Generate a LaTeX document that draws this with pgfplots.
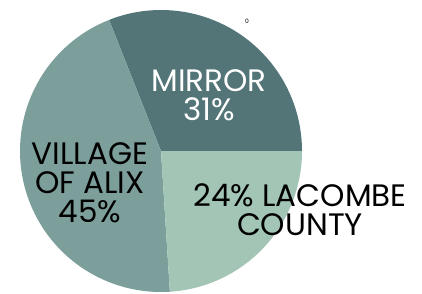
\documentclass[border=0pt]{standalone}
\usepackage{pgfplots}
\usepackage{pgfplotstable}
\pgfplotsset{compat=1.18}
\usepackage{fontspec}
\setmainfont{Poppins}
\definecolor{cMirror}{HTML}{537578}
\definecolor{cAlix}{HTML}{7D9F9B}
\definecolor{cLacombe}{HTML}{A2C5B6}
\pgfplotstableread{
name pct
Mirror 31
Alix 45
Lacombe 24
}\piedata
\pgfplotstablegetelem{0}{pct}\of\piedata \let\pA\pgfplotsretval
\pgfplotstablegetelem{1}{pct}\of\piedata \let\pB\pgfplotsretval
\pgfplotstablegetelem{2}{pct}\of\piedata \let\pC\pgfplotsretval
\pgfmathsetmacro{\aA}{3.6*\pA}
\pgfmathsetmacro{\aB}{\aA+3.6*\pB}
\pgfmathsetmacro{\aC}{\aB+3.6*\pC}
\begin{document}
\begin{tikzpicture}
\begin{axis}[
  scale only axis, width=422pt, height=293pt,
  xmin=0, xmax=422, ymin=0, ymax=293,
  hide axis, clip=false,
]
\path (axis cs:0,0) rectangle (axis cs:422,293);
\def\cx{161}\def\cy{142}\def\r{141}
\addplot[fill=cMirror, draw=none, domain=0:\aA, samples=120]
  ({\cx+\r*cos(x)},{\cy+\r*sin(x)}) -- (axis cs:\cx,\cy) -- cycle;
\addplot[fill=cAlix, draw=none, domain=\aA:\aB, samples=160]
  ({\cx+\r*cos(x)},{\cy+\r*sin(x)}) -- (axis cs:\cx,\cy) -- cycle;
\addplot[fill=cLacombe, draw=none, domain=\aB:\aC, samples=100]
  ({\cx+\r*cos(x)},{\cy+\r*sin(x)}) -- (axis cs:\cx,\cy) -- cycle;
\node[text=white, align=center, inner sep=0pt, font=\fontsize{31}{29}\selectfont] at (axis cs:209,198) {MIRROR\\31\%};
\node[text=black, align=center, inner sep=0pt, font=\fontsize{31}{29}\selectfont] at (axis cs:90,110) {VILLAGE\\OF ALIX\\45\%};
\node[text=black, align=center, inner sep=0pt, font=\fontsize{31}{29}\selectfont] at (axis cs:300,83) {24\% LACOMBE\\COUNTY};
\node[text=black, font=\fontsize{6}{6}\selectfont] at (axis cs:247,272) {0};
\end{axis}
\end{tikzpicture}
\end{document}
